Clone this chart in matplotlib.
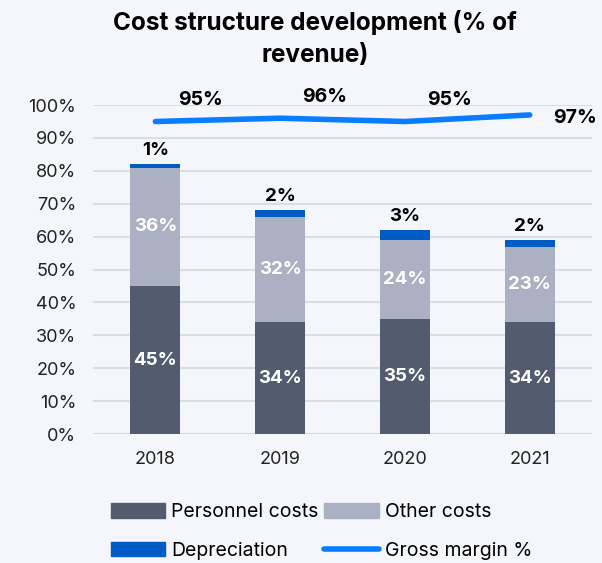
import matplotlib
matplotlib.use("Agg")
import matplotlib.pyplot as plt
import matplotlib.ticker as ticker
from matplotlib.patches import Patch
from matplotlib.lines import Line2D
import numpy

years = ["2018", "2019", "2020", "2021"]
personnel = [45, 34, 35, 34]
other = [36, 32, 24, 23]
depreciation = [1, 2, 3, 2]
gross_margin = [95, 96, 95, 97]

bg = "#F4F6FB"
c_personnel = "#525C6E"
c_other = "#ABB1C3"
c_depr = "#005BC4"
c_margin = "#0A7CFF"

plt.rcParams["font.family"] = ["Inter", "DejaVu Sans"]

fig = plt.figure(figsize=(6.02, 5.63), dpi=100, facecolor=bg)
ax = fig.add_axes([0.1545, 0.229, 0.829, 0.5844], facecolor=bg)

x = numpy.arange(len(years))
w = 0.4
ax.bar(x, personnel, w, color=c_personnel, zorder=2)
ax.bar(x, other, w, bottom=personnel, color=c_other, zorder=2)
bottom2 = numpy.array(personnel) + numpy.array(other)
ax.bar(x, depreciation, w, bottom=bottom2, color=c_depr, zorder=2)
ax.plot(x, gross_margin, color=c_margin, lw=4, solid_capstyle="round", zorder=3, clip_on=False)

# segment labels
for i in range(len(years)):
    ax.text(x[i], personnel[i] / 2, "{}%".format(personnel[i]), ha="center", va="center",
            color="white", fontsize=13.5, fontweight="bold", zorder=4)
    ax.text(x[i], personnel[i] + other[i] / 2, "{}%".format(other[i]), ha="center", va="center",
            color="white", fontsize=13.5, fontweight="bold", zorder=4)
    ax.text(x[i], bottom2[i] + depreciation[i] + 1.5, "{}%".format(depreciation[i]), ha="center",
            va="bottom", color="black", fontsize=13.5, fontweight="bold", zorder=4)

# margin labels, up-right of each point, last one to the right
for i in range(len(years)):
    if i < len(years) - 1:
        ax.text(x[i] + 0.36, gross_margin[i] + 6.5, "{}%".format(gross_margin[i]), ha="center",
                va="center", fontsize=14, fontweight="bold", clip_on=False)
    else:
        ax.text(x[i] + 0.36, gross_margin[i] - 1, "{}%".format(gross_margin[i]), ha="center",
                va="center", fontsize=14, fontweight="bold", clip_on=False)

ax.set_xlim(-0.5, 3.5)
ax.set_ylim(0, 100)
ax.set_yticks(numpy.arange(0, 101, 10))
ax.yaxis.set_major_formatter(ticker.FuncFormatter(lambda v, p: "{:.0f}%".format(v)))
ax.set_xticks(x)
ax.set_xticklabels(years)
ax.tick_params(axis="both", length=0, labelsize=13, colors="#222222")
ax.tick_params(axis="x", pad=12)
ax.tick_params(axis="y", pad=12)
ax.grid(axis="y", color="#D9DDE4", lw=1.5, zorder=0)
ax.set_axisbelow(True)
for s in ax.spines.values():
    s.set_visible(False)

fig.text(0.523, 0.932, "Cost structure development (% of\nrevenue)", ha="center", va="center",
         fontsize=17.5, fontweight="bold", linespacing=1.5)

handles = [Patch(color=c_personnel), Patch(color=c_other),
           Patch(color=c_depr), Line2D([], [], color=c_margin, lw=4, solid_capstyle="round")]
labels = ["Personnel costs", "Other costs", "Depreciation", "Gross margin %"]
order = [0, 2, 1, 3]
fig.legend([handles[k] for k in order], [labels[k] for k in order], ncol=2,
           loc="center left", bbox_to_anchor=(0.155, 0.056), frameon=False, fontsize=14,
           handlelength=2.8, handleheight=0.75, handletextpad=0.3, columnspacing=0.3,
           labelspacing=1.05)

fig.savefig("out.png", dpi=100, facecolor=bg)
